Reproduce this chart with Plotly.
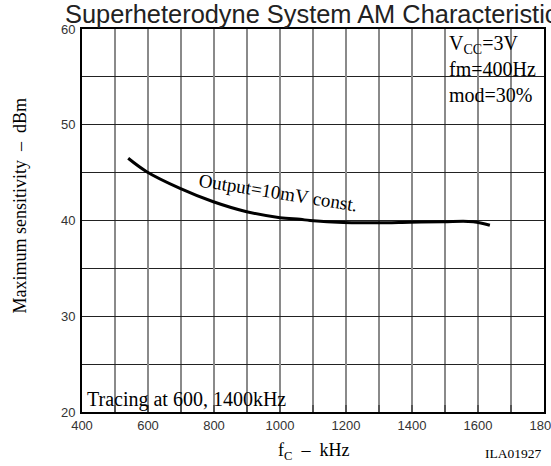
import plotly.graph_objects as go

# Data
freq_khz = [540, 596, 697, 798, 899, 1000, 1061, 1091, 1192, 1293, 1394, 1495, 1586, 1636]
sensitivity_dbm = [46.5, 45.1, 43.36, 41.96, 40.92, 40.29, 40.12, 40.0, 39.78, 39.76, 39.82, 39.88, 39.88, 39.5]

x_range = [400, 1800]
y_range = [20, 60]

title_text = "Superheterodyne System AM Characteristics"
curve_label = "Output=10mV const."
conditions = "V<sub>CC</sub>=3V<br>fm=400Hz<br>mod=30%"
tracing = "Tracing at 600, 1400kHz"

SERIF = "Liberation Serif, Times New Roman, serif"
SANS = "Liberation Sans, Arial, sans-serif"

fig = go.Figure()
fig.add_trace(go.Scatter(
    x=freq_khz, y=sensitivity_dbm, mode="lines",
    line=dict(color="black", width=3, shape="spline", smoothing=1.0),
    hoverinfo="skip", showlegend=False,
))

fig.update_layout(
    width=551, height=466,
    margin=dict(l=82, r=7, t=29, b=54, autoexpand=False),
    paper_bgcolor="white", plot_bgcolor="white",
    showlegend=False,
    xaxis=dict(
        range=x_range, dtick=200, tick0=400,
        showgrid=True, gridcolor="#8a8a8a", gridwidth=2,
        minor=dict(dtick=100, showgrid=True, gridcolor="#8a8a8a", gridwidth=2,
                   ticks="inside", ticklen=7, tickcolor="#555", tickwidth=1.5),
        showline=True, linecolor="black", linewidth=2, mirror=True,
        ticks="inside", ticklen=7, tickcolor="#555", tickwidth=1.5,
        tickfont=dict(family=SANS, size=13, color="#333"),
        ticklabeloverflow="allow", automargin=False,
        zeroline=False, fixedrange=True,
    ),
    yaxis=dict(
        range=y_range, dtick=10, tick0=20,
        showgrid=True, gridcolor="#222", gridwidth=1,
        minor=dict(dtick=5, showgrid=True, gridcolor="#222", gridwidth=1),
        showline=True, linecolor="black", linewidth=2, mirror=True,
        ticks="", ticklabelstandoff=2, automargin=False,
        tickfont=dict(family=SANS, size=13, color="#333"),
        zeroline=False, fixedrange=True,
    ),
)

# white masks behind the two text boxes (grid hidden, axis ticks still shown)
fig.add_shape(type="rect", xref="paper", yref="paper", x0=0, x1=0.483, y0=0, y1=0.0705,
              fillcolor="white", line=dict(width=0), layer="between")
fig.add_shape(type="rect", xref="paper", yref="paper", x0=0.788, x1=1, y0=0.82, y1=1,
              fillcolor="white", line=dict(width=0), layer="between")

annotations = [
    dict(text=title_text, xref="paper", yref="paper", x=0, xshift=-19, y=1.0, yshift=31,
         xanchor="left", yanchor="top", showarrow=False,
         font=dict(family=SANS, size=25.4, color="#222")),
    dict(text=curve_label, xref="x", yref="y", x=994, y=42.9, textangle=9,
         showarrow=False, font=dict(family=SERIF, size=19, color="black")),
    dict(text=conditions, xref="paper", yref="paper", x=0.788, y=1.0, xshift=1, yshift=-1,
         xanchor="left", yanchor="top", align="left", showarrow=False,
         borderpad=1,
         font=dict(family=SERIF, size=20, color="black")),
    dict(text=tracing, xref="paper", yref="paper", x=0.0, y=0.0, xshift=4, yshift=0,
         xanchor="left", yanchor="bottom", align="left", showarrow=False,
         borderpad=0,
         font=dict(family=SERIF, size=20, color="black")),
    dict(text="f<sub>C</sub>  –  kHz", xref="paper", yref="paper", x=0.5, y=0, yshift=-26,
         xanchor="center", yanchor="top", showarrow=False,
         font=dict(family=SERIF, size=18, color="black")),
    dict(text="Maximum sensitivity  –  dBm", xref="paper", yref="paper", x=0, xshift=-62, y=0.539,
         xanchor="center", yanchor="middle", textangle=-90, showarrow=False,
         font=dict(family=SERIF, size=18, color="black")),
    dict(text="ILA01927", xref="paper", yref="paper", x=1.0, xshift=-1, y=0, yshift=-32,
         xanchor="right", yanchor="top", showarrow=False,
         font=dict(family=SERIF, size=13.5, color="black")),
]
fig.update_layout(annotations=annotations)

fig.write_html("out.html", config={"displayModeBar": False},
               post_script="document.body.style.margin='0';document.body.style.overflow='hidden';")
